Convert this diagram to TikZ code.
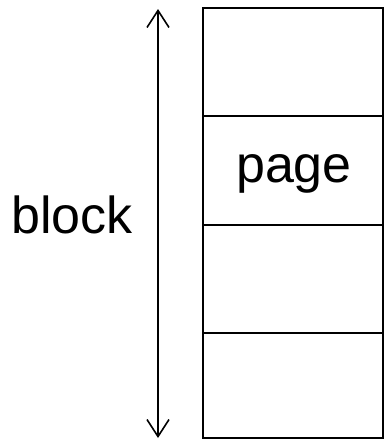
\documentclass[tikz,border=0pt]{standalone}
\usepackage{fontspec}
\setmainfont{Liberation Sans}
\usetikzlibrary{arrows.meta}
\begin{document}
\begin{tikzpicture}[x=1pt,y=-1pt,
  line/.style={line width=1.8pt},
  lbl/.style={font=\fontsize{52}{60}\selectfont, inner sep=0pt, anchor=base}]
\useasboundingbox (0,0) rectangle (385,440);
\coordinate (tl) at (203,8);
\coordinate (br) at (383,438);
\draw[line] (tl) rectangle (br);
\coordinate (d1l) at (203,116); \coordinate (d1r) at (383,116);
\coordinate (d2l) at (203,225); \coordinate (d2r) at (383,225);
\coordinate (d3l) at (203,333); \coordinate (d3r) at (383,333);
\draw[line] (d1l) -- (d1r);
\draw[line] (d2l) -- (d2r);
\draw[line] (d3l) -- (d3r);
\coordinate (atop) at (158,9);
\coordinate (abot) at (158,438);
\draw[line width=1.6pt, {Straight Barb[length=17pt,width=22pt]}-{Straight Barb[length=17pt,width=22pt]}] (atop) -- (abot);
\node[lbl] (block) at (72,233) {block};
\node[lbl] (page) at (294,182) {page};
\end{tikzpicture}
\end{document}
